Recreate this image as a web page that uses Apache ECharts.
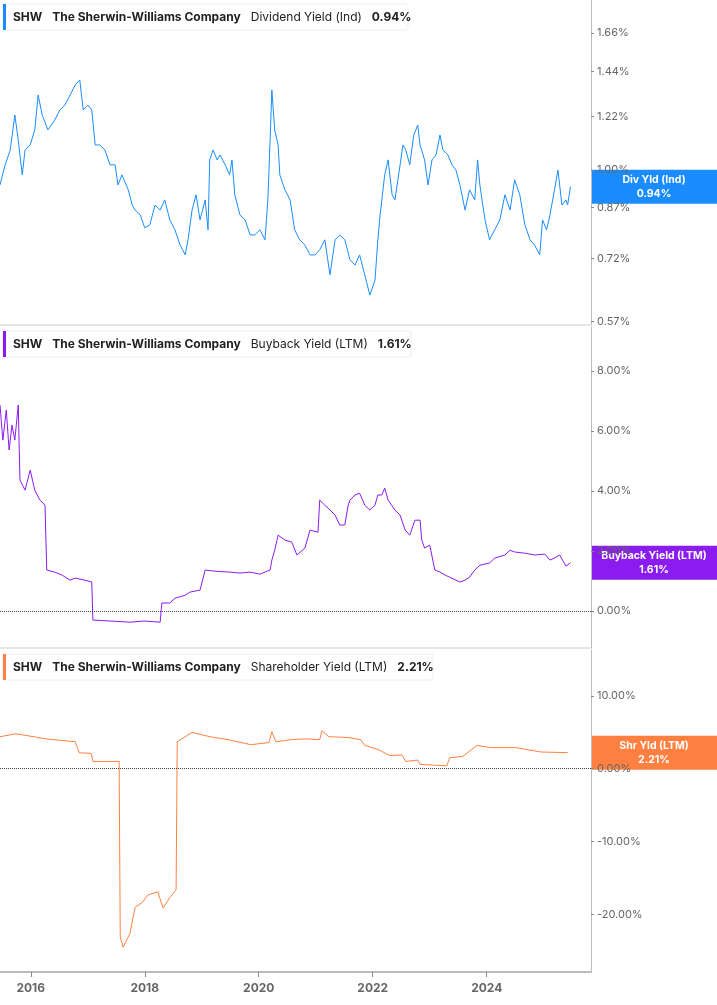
<!DOCTYPE html>
<html>
<head>
<meta charset="utf-8">
<script src="https://cdn.jsdelivr.net/npm/echarts@6/dist/echarts.min.js"></script>
<style>
  html, body { margin: 0; padding: 0; background: #fff; }
  #chart { width: 717px; height: 1005px; }
</style>
</head>
<body>
<div id="chart"></div>
<script>
// x values are decimal years
var divYears = [15.46,15.55,15.64,15.72,15.78,15.85,15.90,15.99,16.07,16.13,16.20,16.30,16.42,16.51,16.60,16.69,16.78,16.86,16.92,17.00,17.07,17.13,17.21,17.30,17.39,17.48,17.53,17.60,17.71,17.78,17.83,17.92,18.00,18.09,18.18,18.27,18.35,18.44,18.53,18.62,18.71,18.76,18.83,18.90,18.97,19.06,19.11,19.14,19.20,19.27,19.32,19.41,19.49,19.53,19.58,19.67,19.76,19.85,19.93,20.02,20.11,20.16,20.20,20.23,20.28,20.34,20.37,20.46,20.55,20.63,20.72,20.81,20.90,20.99,21.07,21.16,21.25,21.34,21.42,21.51,21.60,21.69,21.77,21.86,21.95,22.04,22.09,22.13,22.21,22.27,22.34,22.39,22.48,22.53,22.58,22.65,22.72,22.79,22.83,22.91,22.97,23.04,23.11,23.18,23.23,23.32,23.39,23.46,23.53,23.62,23.70,23.79,23.84,23.88,23.97,24.05,24.14,24.23,24.32,24.41,24.49,24.58,24.67,24.76,24.84,24.93,24.98,25.05,25.11,25.19,25.25,25.32,25.39,25.42,25.47];
var divValues = [0.946,1.019,1.077,1.226,1.118,0.982,1.077,1.097,1.160,1.320,1.226,1.160,1.203,1.249,1.272,1.320,1.370,1.395,1.249,1.272,1.249,1.097,1.097,1.077,1.019,1.019,0.946,0.982,0.929,0.878,0.862,0.847,0.807,0.816,0.878,0.862,0.895,0.831,0.801,0.757,0.730,0.772,0.862,0.912,0.831,0.895,0.801,1.038,1.077,1.038,1.057,1.019,0.982,1.038,0.912,0.847,0.831,0.786,0.786,0.801,0.772,0.895,1.118,1.345,1.160,1.097,0.982,0.929,0.895,0.801,0.772,0.757,0.730,0.730,0.744,0.772,0.678,0.772,0.786,0.772,0.717,0.703,0.730,0.678,0.629,0.665,0.772,0.847,0.982,1.038,0.912,0.895,1.019,1.097,1.077,1.019,1.138,1.181,1.097,1.038,0.946,1.038,1.057,1.138,1.077,1.057,1.019,1.000,0.946,0.862,0.929,0.895,1.038,0.946,0.831,0.772,0.801,0.831,0.912,0.862,0.964,0.912,0.816,0.772,0.757,0.730,0.831,0.801,0.847,0.929,1.000,0.878,0.895,0.878,0.940];

var bbYears = [15.46,15.51,15.57,15.62,15.67,15.72,15.78,15.81,15.90,15.99,16.07,16.16,16.25,16.28,16.42,16.55,16.69,16.78,16.95,17.07,17.09,17.39,17.74,18.00,18.27,18.30,18.44,18.53,18.71,18.79,18.97,19.06,19.23,19.49,19.67,19.85,20.02,20.20,20.23,20.28,20.34,20.46,20.58,20.67,20.81,20.90,21.04,21.07,21.16,21.25,21.34,21.42,21.51,21.57,21.60,21.69,21.77,21.86,21.95,22.04,22.09,22.16,22.21,22.27,22.39,22.48,22.57,22.65,22.74,22.83,22.86,22.91,23.00,23.09,23.18,23.27,23.35,23.53,23.62,23.70,23.79,23.88,24.05,24.14,24.32,24.41,24.49,24.67,24.84,25.02,25.11,25.19,25.28,25.33,25.39,25.47];
var bbValues = [6.87,5.70,6.70,5.37,6.20,5.70,6.87,4.37,4.03,4.70,4.03,3.70,3.53,1.37,1.30,1.20,1.03,1.10,1.03,0.97,-0.30,-0.33,-0.37,-0.33,-0.37,0.27,0.27,0.43,0.53,0.63,0.70,1.37,1.33,1.30,1.27,1.30,1.23,1.37,1.70,2.03,2.53,2.37,2.30,1.87,2.10,2.70,2.63,3.70,3.53,3.37,3.20,2.87,2.87,3.53,3.70,3.87,3.93,3.53,3.37,3.53,3.87,3.87,4.10,3.70,3.37,3.20,2.70,2.53,3.03,3.03,2.37,2.10,2.20,1.37,1.30,1.20,1.13,0.97,1.03,1.13,1.37,1.53,1.60,1.77,1.87,2.03,1.97,1.93,1.87,1.90,1.70,1.77,1.87,1.70,1.50,1.61];

var shrYears = [15.46,15.74,16.27,16.78,16.85,17.06,17.09,17.55,17.57,17.62,17.74,17.83,17.95,18.06,18.23,18.32,18.44,18.55,18.57,18.83,19.14,19.46,19.86,20.18,20.23,20.30,20.58,20.83,21.07,21.11,21.23,21.55,21.79,21.86,22.11,22.30,22.51,22.58,22.79,22.83,23.30,23.35,23.58,23.83,24.07,24.51,24.95,25.42];
var shrValues = [4.4,4.8,4.1,3.7,2.2,2.1,1.0,1.0,-23.1,-24.5,-22.6,-19.0,-18.4,-17.3,-16.9,-19.1,-17.7,-16.6,3.7,5.0,4.4,4.0,3.3,3.6,5.1,3.7,4.0,4.1,4.0,5.2,4.4,4.3,4.0,3.2,2.6,1.8,1.9,1.0,1.2,0.6,0.4,1.5,1.7,3.2,2.9,2.9,2.3,2.21];

var yearTicks = [2016, 2018, 2020, 2022, 2024];
var divTicks = [0.57, 0.72, 0.87, 1.00, 1.22, 1.44, 1.66];
var bbTicks = [0, 2, 4, 6, 8];
var shrTicks = [-20, -10, 0, 10];

var panels = [
  { label: 'Dividend Yield (Ind)', last: '0.94%', tag: 'Div Yld (Ind)', color: '#1a8cff', lastVal: 0.94 },
  { label: 'Buyback Yield (LTM)', last: '1.61%', tag: 'Buyback Yield (LTM)', color: '#8a1cf0', lastVal: 1.61 },
  { label: 'Shareholder Yield (LTM)', last: '2.21%', tag: 'Shr Yld (LTM)', color: '#ff8040', lastVal: 2.21 }
];

function pairs(xs, ys) {
  var out = [];
  for (var i = 0; i < xs.length; i++) out.push([2000 + xs[i], ys[i]]);
  return out;
}

var grids = [
  { left: 0, right: 126, top: 0, height: 325 },
  { left: 0, right: 126, top: 327, height: 321 },
  { left: 0, right: 126, top: 650, height: 322 }
];

var xAxes = grids.map(function (g, i) {
  return {
    type: 'value', gridIndex: i, min: 2015.46, max: 2025.83,
    axisLine: { show: i === 2, onZero: false, lineStyle: { color: '#bbb', width: 2 } },
    axisTick: { show: i === 2, customValues: yearTicks, length: 5, lineStyle: { color: '#888' } },
    axisLabel: { show: i === 2, customValues: yearTicks, color: '#666', fontSize: 12, fontWeight: 'bold', margin: 10,
      fontFamily: 'Inter', formatter: function (v) { return String(Math.round(v)); } },
    splitLine: { show: false }
  };
});

function yAx(i, type, min, max, ticks, fmt) {
  return {
    type: type, gridIndex: i, position: 'right', min: min, max: max,
    axisLine: { show: true, onZero: false, lineStyle: { color: '#bbb', width: 1 } },
    axisTick: { show: true, customValues: ticks, length: 3, lineStyle: { color: '#888' } },
    axisLabel: { customValues: ticks, color: '#666', fontSize: 11, fontFamily: 'Inter', margin: 6, formatter: fmt },
    splitLine: { show: false }
  };
}

var yAxes = [
  yAx(0, 'log', 0.563, 1.877, divTicks, function (v) { return v.toFixed(2) + '%'; }),
  yAx(1, 'value', -1.23, 9.47, bbTicks, function (v) { return v.toFixed(2) + '%'; }),
  yAx(2, 'value', -27.9, 16.3, shrTicks, function (v) { return v.toFixed(2) + '%'; })
];

var zeroLine = {
  silent: true, symbol: 'none', label: { show: false },
  lineStyle: { type: 'dotted', color: '#444', width: 1 },
  data: [{ yAxis: 0 }]
};

var series = [
  { type: 'line', xAxisIndex: 0, yAxisIndex: 0, data: pairs(divYears, divValues), showSymbol: false,
    lineStyle: { color: panels[0].color, width: 1 } },
  { type: 'line', xAxisIndex: 1, yAxisIndex: 1, data: pairs(bbYears, bbValues), showSymbol: false,
    lineStyle: { color: panels[1].color, width: 1 }, markLine: zeroLine },
  { type: 'line', xAxisIndex: 2, yAxisIndex: 2, data: pairs(shrYears, shrValues), showSymbol: false,
    lineStyle: { color: panels[2].color, width: 1 }, markLine: zeroLine }
];

var chart = echarts.init(document.getElementById('chart'));
chart.setOption({
  animation: false,
  textStyle: { fontFamily: 'Inter' },
  grid: grids,
  xAxis: xAxes,
  yAxis: yAxes,
  series: series
});

// legend boxes, separators and right-hand value tags
var graphics = [];
var boxTops = [4, 331, 654];
var boxWidths = [405, 408, 430];
panels.forEach(function (p, i) {
  var top = boxTops[i];
  graphics.push({ type: 'rect', shape: { x: 3, y: top, width: boxWidths[i], height: 26, r: 2 },
    style: { fill: '#fff', stroke: '#eee', lineWidth: 1 } });
  graphics.push({ type: 'rect', shape: { x: 3, y: top, width: 3, height: 26 }, style: { fill: p.color } });
  graphics.push({ type: 'text', x: 13, y: top + 13, style: {
    text: '{b|SHW}   {b|The Sherwin-Williams Company}   {n|' + p.label + '}   {b|' + p.last + '}',
    verticalAlign: 'middle', fill: '#222',
    rich: { b: { fontWeight: 'bold', fontSize: 12, fontFamily: 'Inter', fill: '#222' },
            n: { fontSize: 12, fontFamily: 'Inter', fill: '#222' } } } });
  var py = chart.convertToPixel({ xAxisIndex: i, yAxisIndex: i }, [2020, p.lastVal])[1];
  graphics.push({ type: 'rect', shape: { x: 591, y: py - 17, width: 126, height: 34 }, style: { fill: p.color } });
  graphics.push({ type: 'text', x: 654, y: py, style: { text: p.tag + '\n' + p.last, align: 'center', verticalAlign: 'middle',
    fill: '#fff', fontWeight: 'bold', fontSize: 10.5, fontFamily: 'Inter', lineHeight: 14 } });
});
[325, 648].forEach(function (y) {
  graphics.push({ type: 'line', shape: { x1: 0, y1: y, x2: 591, y2: y }, style: { stroke: '#ccc', lineWidth: 1 } });
});
chart.setOption({ graphic: graphics });
</script>
</body>
</html>
